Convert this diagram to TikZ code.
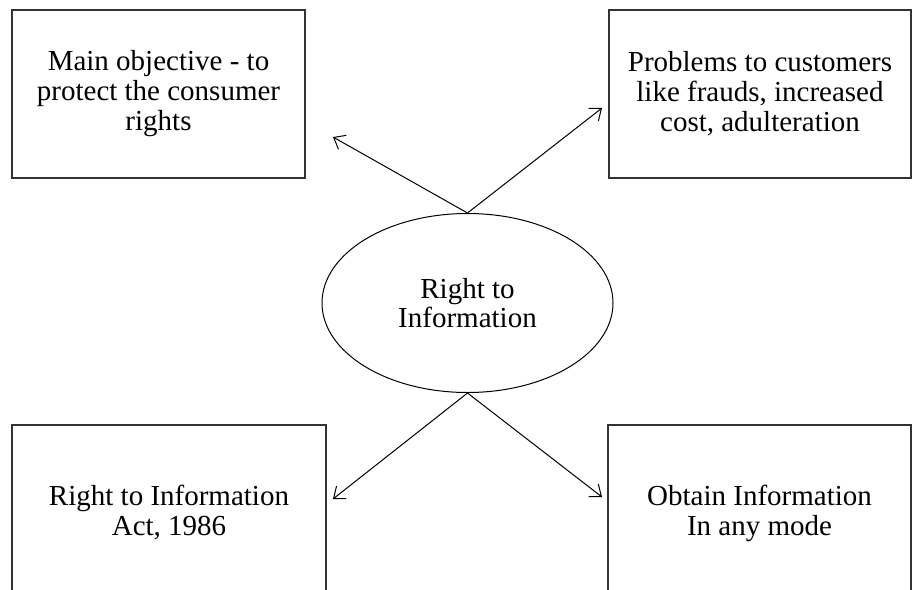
\documentclass[tikz,border=0pt]{standalone}
\usepackage{fontspec}
\setmainfont{Liberation Serif}
\usetikzlibrary{arrows.meta,shapes.geometric}
\tikzset{
  infobox/.style = {rectangle, draw=black!80, line width=0.65pt, align=center,
                    font=\fontsize{14.5}{15}\selectfont, inner sep=0pt},
  hub/.style     = {ellipse, draw=black, line width=0.5pt, align=center,
                    font=\fontsize{14.5}{14.5}\selectfont, inner sep=0pt,
                    minimum width=145.5pt, minimum height=89.5pt},
  arr/.style     = {-{Straight Barb[length=5pt,width=8pt]}, line width=0.5pt},
}

\begin{document}
\begin{tikzpicture}[x=0.5pt, y=-0.5pt]
\useasboundingbox (0,0) rectangle (912,590);
\clip (0,0) rectangle (912,590);

% centre
\node[hub] (rti) at (467.5,303) {Right to\\Information};

% boxes
\node[infobox, minimum width=146.5pt, minimum height=84pt] (objective) at (158.5,94)
  {Main objective - to\\protect the consumer\\rights};
\node[infobox, minimum width=151pt, minimum height=84pt] (problems) at (760,94)
  {Problems to customers\\like frauds, increased\\cost, adulteration};
\node[infobox, minimum width=157pt, minimum height=88pt] (act) at (169,513)
  {Right to Information\\Act, 1986};
\node[infobox, minimum width=151.5pt, minimum height=88pt] (obtain) at (759.5,513)
  {Obtain Information\\In any mode};

% arrow ends
\coordinate (objtip) at (333,137);
\coordinate (probtip) at (602,108);
\coordinate (acttip) at (333,499);
\coordinate (obttip) at (602,497);

\draw[arr] (rti.north) -- (objtip);
\draw[arr] (rti.north) -- (probtip);
\draw[arr] (rti.south) -- (acttip);
\draw[arr] (rti.south) -- (obttip);

\end{tikzpicture}
\end{document}
